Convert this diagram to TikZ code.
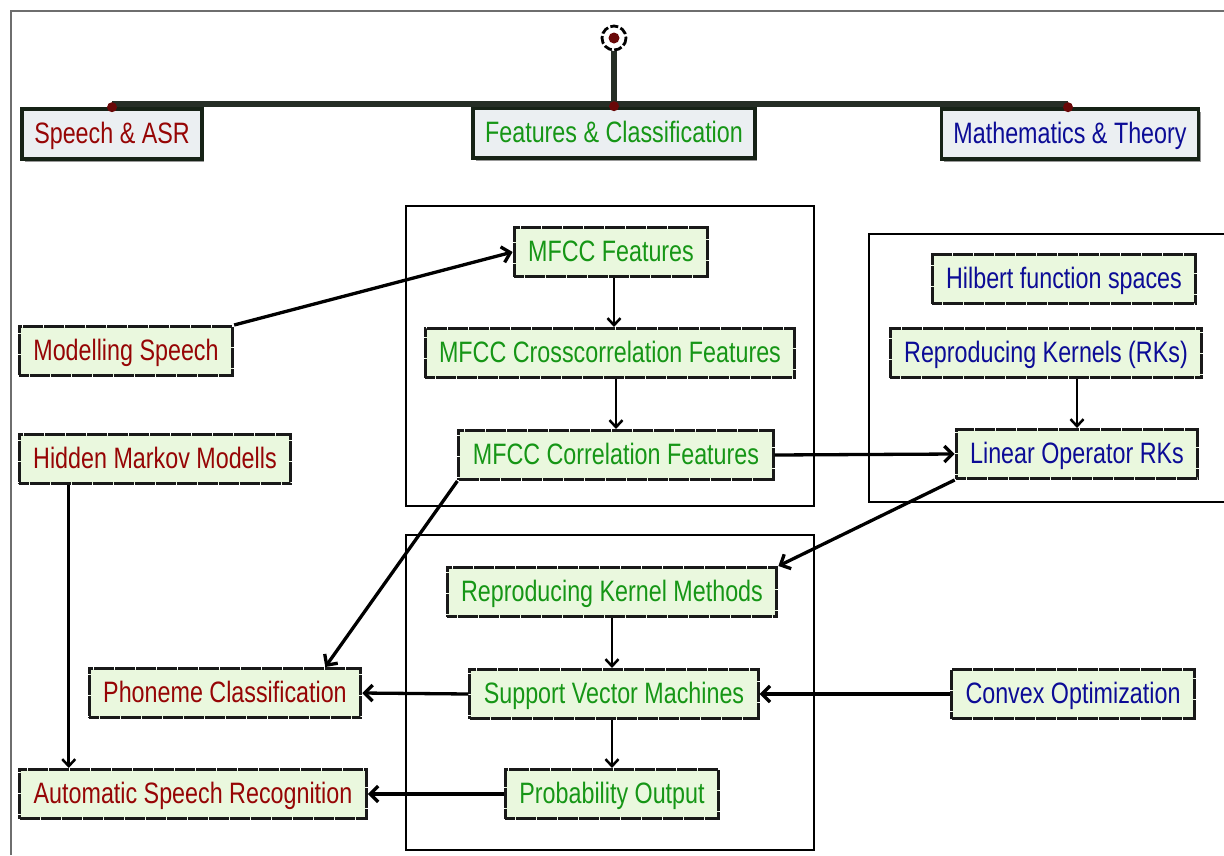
\documentclass[tikz,border=0pt]{standalone}
\usepackage{fontspec}
\setmainfont{Liberation Sans}[FakeStretch=0.79]
\usetikzlibrary{arrows.meta,shadows,calc}

\definecolor{spRed}{RGB}{150,5,5}
\definecolor{ftGreen}{RGB}{22,150,22}
\definecolor{mtBlue}{RGB}{12,12,150}
\definecolor{nodeFill}{RGB}{234,248,222}
\definecolor{hdrFill}{RGB}{235,239,242}
\definecolor{hdrEdge}{RGB}{22,34,22}
\definecolor{busCol}{RGB}{38,46,38}
\definecolor{dotCol}{RGB}{105,8,8}
\definecolor{pageEdge}{RGB}{110,110,110}

\begin{document}
\begin{tikzpicture}[x=1pt,y=-1pt,
  txt/.style={font=\fontsize{29.5}{33}\selectfont, text height=23pt, text depth=4pt},
  hdr/.style={txt, draw=hdrEdge, line width=3.6pt, fill=hdrFill,
    minimum height=50pt, inner xsep=12pt,
    drop shadow={shadow xshift=2.5pt, shadow yshift=-2.5pt, fill=black!40, opacity=1}},
  box/.style={txt, draw=black!90, line width=3pt, dash pattern=on 10pt off 0.5pt,
    fill=nodeFill, minimum height=49pt, inner xsep=14pt},
  sp/.style={box, text=spRed},
  ft/.style={box, text=ftGreen},
  mt/.style={box, text=mtBlue},
  grp/.style={draw=black, line width=1.8pt},
  link/.style={draw=black, line width=3.3pt, -{Straight Barb[length=8pt,width=16pt]}},
  thin link/.style={draw=black, line width=2.5pt, -{Straight Barb[length=7pt,width=13pt]}}
]
\useasboundingbox (0,0) rectangle (1224,855);

% page frame (top and left edges)
\draw[pageEdge, line width=1.8pt] (11,855) -- (11,11) -- (1224,11);

% group frames
\draw[grp] (406,206) rectangle (814,506);
\draw[grp] (1226,234) -- (869,234) -- (869,502) -- (1226,502);
\draw[grp] (406,535) rectangle (814,850);

% category headers
\node[hdr, text=spRed]   (hA) at (112,134) {Speech \& ASR};
\node[hdr, text=ftGreen] (hB) at (614,133) {Features \& Classification};
\node[hdr, text=mtBlue]  (hC) at (1070,134) {Mathematics \& Theory};

% root marker and bus
\coordinate (root) at (614,38);
\coordinate (busL) at (112,104);
\coordinate (busM) at (614,104);
\coordinate (busR) at (1068,104);
\draw[busCol, line width=6pt] (busL) -- (busR);
\draw[busCol, line width=6pt] (root) -- (busM);
\fill[white] (root) circle (13);
\draw[black, line width=2.8pt, dash pattern=on 8pt off 2.5pt] (root) circle (12);
\fill[dotCol] (root) circle (5.5);
\fill[dotCol] (hA.north -| busL) circle (5);
\fill[dotCol] (hB.north) circle (5);
\fill[dotCol] (hC.north -| busR) circle (5);

% feature nodes
\node[ft] (mfcc)  at (611,252) {MFCC Features};
\node[ft] (cross) at (610,353) {MFCC Crosscorrelation Features};
\node[ft] (corr)  at (616,455) {MFCC Correlation Features};

% theory nodes
\node[mt] (hilb) at (1064,279) {Hilbert function spaces};
\node[mt] (rks)  at (1046,353) {Reproducing Kernels (RKs)};
\node[mt] (lin)  at (1077,454) {Linear Operator RKs};
\node[mt] (cvx)  at (1073,694) {Convex Optimization};

% speech nodes
\node[sp] (ms)   at (126,351) {Modelling Speech};
\node[sp] (hmm)  at (155,459) {Hidden Markov Modells};
\node[sp] (pc)   at (225,693) {Phoneme Classification};
\node[sp] (asr)  at (193,794) {Automatic Speech Recognition};

% classification nodes
\node[ft] (rkm)  at (612,592) {Reproducing Kernel Methods};
\node[ft] (svm)  at (614,694) {Support Vector Machines};
\node[ft] (prob) at (612,794) {Probability Output};

% helper points for offset connector ends
\coordinate (mfccOut) at ($(mfcc.south)+(3,0)$);
\coordinate (hmmOut)  at ($(hmm.south west)+(51,0)$);
\coordinate (pcIn)    at ($(pc.north east)+(-37,0)$);

% connectors
\draw[link] (ms.north east) -- (mfcc.west);
\draw[thin link] (mfccOut) -- (mfccOut |- cross.north);
\draw[thin link] (corr.north |- cross.south) -- (corr.north);
\draw[link] (corr.east) -- (lin.west);
\draw[link] (corr.south west) -- (pcIn);
\draw[thin link] (rks.south -| lin.north) -- (lin.north);
\draw[link] (lin.south west) -- (rkm.north east);
\draw[thin link] (rkm.south) -- (rkm.south |- svm.north);
\draw[link] (svm.west) -- (pc.east);
\draw[link] (cvx.west) -- (svm.east);
\draw[thin link] (svm.south -| prob.north) -- (prob.north);
\draw[link] (prob.west) -- (asr.east);
\draw[thin link] (hmmOut) -- (hmmOut |- asr.north);
\end{tikzpicture}
\end{document}
